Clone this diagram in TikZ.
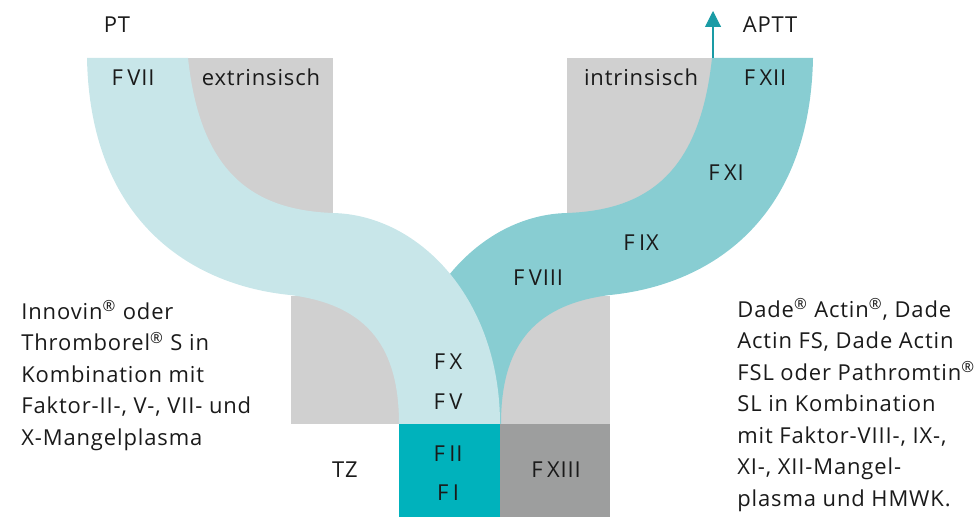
\documentclass[tikz,border=0pt]{standalone}
\usepackage{fontspec}
\setmainfont{Open Sans}[LetterSpace=4]
\usetikzlibrary{arrows.meta}

\definecolor{extlight}{HTML}{C8E6E9}
\definecolor{intdark}{HTML}{88CDD2}
\definecolor{pathgrey}{HTML}{D0D0D0}
\definecolor{fibrin}{HTML}{00B2BC}
\definecolor{xiiigrey}{HTML}{9D9E9E}
\definecolor{apttteal}{HTML}{1A9BA5}
\definecolor{inktext}{HTML}{1A1A1A}

\newcommand{\fac}[1]{F\hspace{2.5pt}#1}

\tikzstyle{factor} = [text=inktext, font=\fontsize{12.5}{14}\selectfont, inner sep=0pt, anchor=base]
\tikzstyle{info} = [text=inktext, font=\fontsize{12.5}{17.9}\selectfont, inner sep=0pt, align=left, anchor=base west]

\begin{document}
\begin{tikzpicture}[x=0.02cm, y=-0.02cm]
\useasboundingbox (0,0) rectangle (980,517);

% grey fields behind the two branches
\fill[pathgrey] (188,58) rectangle (333,213);
\fill[pathgrey] (567,58) rectangle (712,213);
\fill[pathgrey] (291,296) rectangle (400,424);
\fill[pathgrey] (500,296) rectangle (610,424);

% intrinsic branch (drawn first, the extrinsic one lies over it)
\fill[intdark] (712,58) .. controls (700,170) and (650,210) .. (567,213)
  .. controls (480,215) and (400,300) .. (400,424) -- (501,424)
  .. controls (501,350) and (530,305) .. (610,295)
  .. controls (710,285) and (810,220) .. (813,58) -- cycle;

% extrinsic branch
\fill[extlight] (87,58) .. controls (90,220) and (190,285) .. (290,295)
  .. controls (370,305) and (399,350) .. (399,424) -- (500,424)
  .. controls (500,300) and (420,215) .. (333,213)
  .. controls (250,210) and (200,170) .. (188,58) -- cycle;

% common pathway
\fill[fibrin] (399,424) rectangle (500,517);
\fill[xiiigrey] (500,424) rectangle (610,517);

% APTT arrow
\coordinate (xiistart) at (713,58);
\coordinate (apttend) at (713,11);
\draw[apttteal, line width=0.6pt, -{Triangle[width=9pt, length=9pt]}] (xiistart) -- (apttend);

% labels
\node[factor] (pt) at (117,33) {PT};
\node[factor] (aptt) at (770,33) {APTT};
\node[factor] (f7) at (133,86) {\fac{VII}};
\node[factor] (extr) at (261,86) {extrinsisch};
\node[factor] (intr) at (641,86) {intrinsisch};
\node[factor] (f12) at (765,86) {\fac{XII}};
\node[factor] (f11) at (726,180) {\fac{XI}};
\node[factor] (f9) at (641,250) {\fac{IX}};
\node[factor] (f8) at (538,285) {\fac{VIII}};
\node[factor] (f10) at (448,369) {\fac{X}};
\node[factor] (f5) at (448,409) {\fac{V}};
\node[factor] (f2) at (448,461) {\fac{II}};
\node[factor] (f1) at (448,500) {\fac{I}};
\node[factor] (f13) at (556,477) {\fac{XIII}};
\node[factor] (tz) at (345,477) {TZ};

% reagent notes, placed by their last line
\node[info] (ptreag) at (21,445) {Innovin\textsuperscript{®} oder\\Thromborel\textsuperscript{®} S in\\Kombination mit\\Faktor-II-, V-, VII- und\\X-Mangelplasma};
\node[info] (apttreag) at (737,506) {Dade\textsuperscript{®} Actin\textsuperscript{®}, Dade\\Actin FS, Dade Actin\\FSL oder Pathromtin\textsuperscript{®}\\SL in Kombination\\mit Faktor-VIII-, IX-,\\XI-, XII-Mangel-\\plasma und HMWK.};
\end{tikzpicture}
\end{document}
